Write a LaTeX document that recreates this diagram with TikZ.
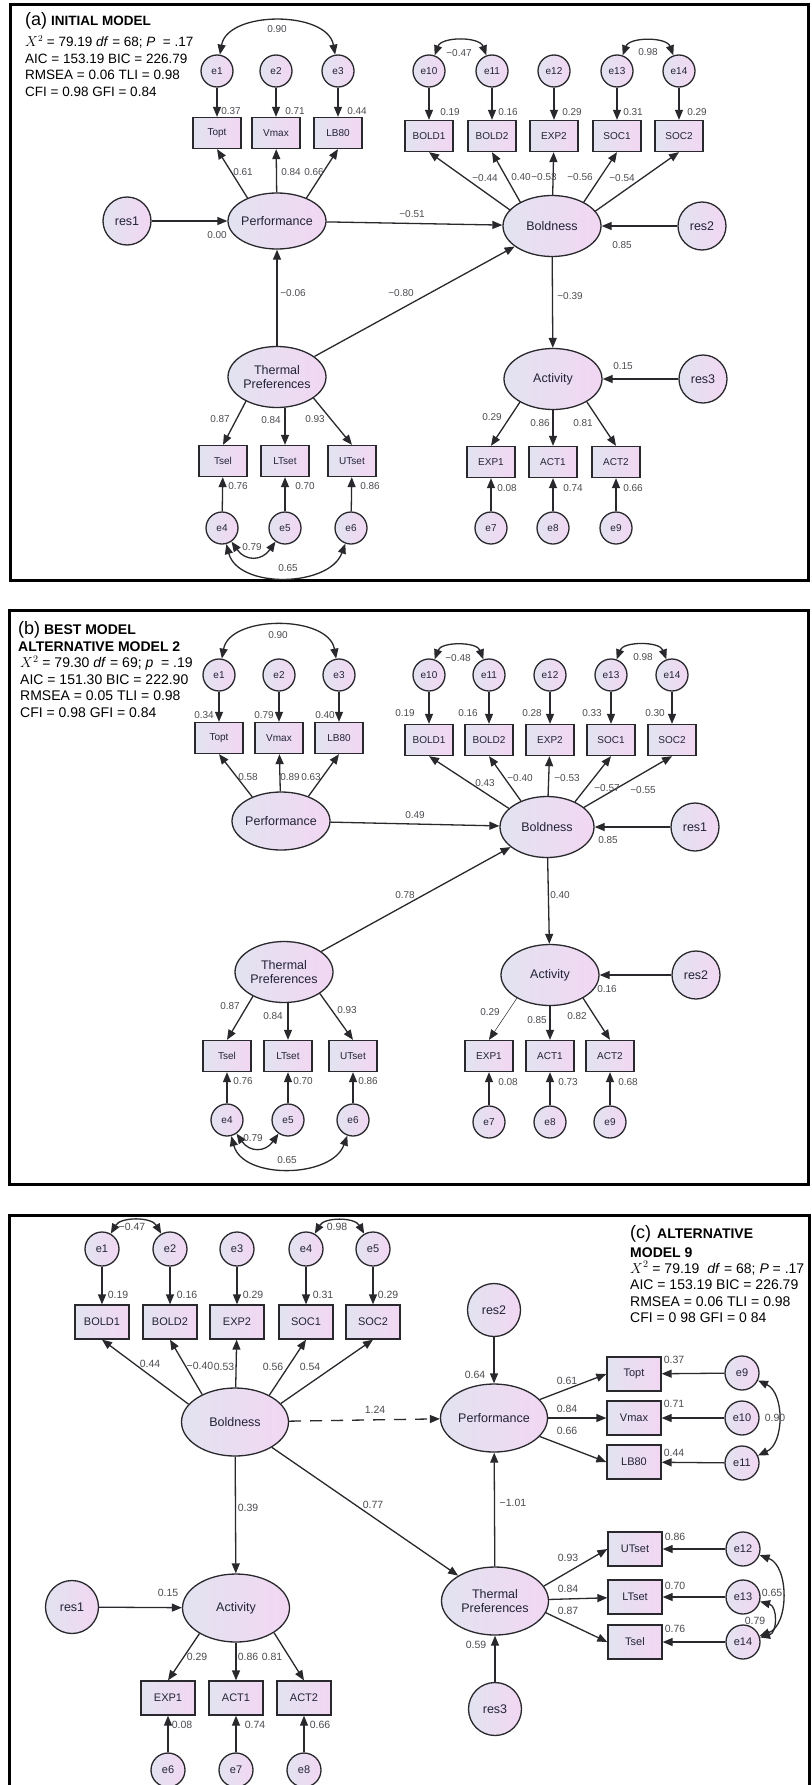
\documentclass[tikz,border=0pt]{standalone}
\usepackage{fontspec}
\setmainfont{Liberation Sans}
\usetikzlibrary{arrows.meta,shapes}

\definecolor{fillL}{RGB}{226,227,240}
\definecolor{fillR}{RGB}{242,215,242}
\definecolor{edgec}{RGB}{40,40,45}
\definecolor{numc}{RGB}{75,75,80}
\definecolor{txtc}{RGB}{35,35,55}

\tikzset{
  lat/.style={ellipse, draw=edgec, line width=1.3pt, left color=fillL, right color=fillR,
    minimum width=98pt, minimum height=61pt, inner sep=-8pt, align=center,
    text=txtc, font=\fontsize{12.5}{14.5}\selectfont},
  obsv/.style={rectangle, draw=edgec, line width=1.3pt, left color=fillL, right color=fillR,
    minimum width=48pt, minimum height=31pt, inner sep=0pt, text=txtc,
    font=\fontsize{10}{12}\selectfont},
  errc/.style={circle, draw=edgec, line width=1.3pt, left color=fillL, right color=fillR,
    minimum size=32pt, inner sep=0pt, text=txtc, font=\fontsize{10}{12}\selectfont},
  resc/.style={circle, draw=edgec, line width=1.3pt, left color=fillL, right color=fillR,
    minimum size=48pt, inner sep=0pt, text=txtc, font=\fontsize{12.5}{14}\selectfont},
  num/.style={inner sep=0pt, text=numc, font=\fontsize{10}{12}\selectfont},
  pth/.style={-{Triangle[length=10pt,width=8pt]}, line width=1.3pt, draw=edgec},
  cov/.style={{Triangle[length=10pt,width=8pt]}-{Triangle[length=10pt,width=8pt]},
    line width=1.3pt, draw=edgec},
  panel/.style={draw=black, line width=3pt},
  stat/.style={anchor=base west, inner sep=0pt, font=\fontsize{14}{16}\selectfont},
}

\begin{document}
\begin{tikzpicture}[x=1pt,y=-1pt]
\useasboundingbox (0,0) rectangle (811,1785);

% ================= (a) initial model =================
\draw[panel] (10,5) rectangle (808,580);
\node[stat] (aT1) at (25,26) {{\fontsize{18}{18}\selectfont (a)} {\fontsize{13.5}{16}\selectfont\bfseries INITIAL MODEL}};
\node[stat, font=\fontsize{13.5}{16}\selectfont] (aT2) at (25,47) {$X^2$ = 79.19 \textit{df} = 68; \textit{P} \ = .17};
\node[stat, font=\fontsize{13.5}{16}\selectfont] (aT3) at (25,63.5) {AIC = 153.19 BIC = 226.79};
\node[stat, font=\fontsize{13.5}{16}\selectfont] (aT4) at (25,80) {RMSEA = 0.06 TLI = 0.98};
\node[stat, font=\fontsize{13.5}{16}\selectfont] (aT5) at (25,96.5) {CFI = 0.98 GFI = 0.84};

% performance block
\node[errc] (ae1) at (217,71) {e1};
\node[errc] (ae2) at (276,71) {e2};
\node[errc] (ae3) at (338,71) {e3};
\node[obsv] (aTopt) at (217,133) {Topt};
\node[obsv] (aVmax) at (276,133) {Vmax};
\node[obsv] (aLB80) at (338,133) {LB80};
\node[lat, minimum height=56pt] (aPerf) at (277,221) {Performance};
\node[resc] (ares1) at (127,221) {res1};

% boldness block
\node[errc] (ae10) at (429,71) {e10};
\node[errc] (ae11) at (492,71) {e11};
\node[errc] (ae12) at (554,71) {e12};
\node[errc] (ae13) at (617,71) {e13};
\node[errc] (ae14) at (679,71) {e14};
\node[obsv] (aBOLD1) at (429,136) {BOLD1};
\node[obsv] (aBOLD2) at (492,136) {BOLD2};
\node[obsv] (aEXP2) at (554,136) {EXP2};
\node[obsv] (aSOC1) at (617,136) {SOC1};
\node[obsv] (aSOC2) at (679,136) {SOC2};
\node[lat] (aBold) at (552,226) {Boldness};
\node[resc] (ares2) at (702,226) {res2};

% activity block
\node[lat] (aAct) at (553,379) {Activity};
\node[resc] (ares3) at (703,379) {res3};
\node[obsv] (aEXP1) at (491,462) {EXP1};
\node[obsv] (aACT1) at (553,462) {ACT1};
\node[obsv] (aACT2) at (616,462) {ACT2};
\node[errc] (ae7) at (491,528) {e7};
\node[errc] (ae8) at (553,528) {e8};
\node[errc] (ae9) at (616,528) {e9};

% thermal block
\node[lat] (aTherm) at (277,377) {Thermal\\Preferences};
\node[obsv] (aTsel) at (223,461) {Tsel};
\node[obsv] (aLTset) at (285,461) {LTset};
\node[obsv] (aUTset) at (352,461) {UTset};
\node[errc] (ae4) at (222,528) {e4};
\node[errc] (ae5) at (285,528) {e5};
\node[errc] (ae6) at (351,528) {e6};

\draw[pth] (ae1) -- (aTopt);
\draw[pth] (ae2) -- (aVmax);
\draw[pth] (ae3) -- (aLB80);
\draw[pth] (aPerf.142) -- (aTopt.south);
\draw[pth] (aPerf) -- (aVmax);
\draw[pth] (aPerf.38) -- (aLB80.south);
\draw[pth] (ares1) -- (aPerf);
\draw[pth] (aPerf) -- (aBold);
\draw[pth] (aTherm) -- (aPerf);
\draw[pth] (aTherm) -- (aBold);
\draw[cov] (ae1) to[out=80,in=100] (ae3);
\draw[pth] (ae10) -- (aBOLD1);
\draw[pth] (ae11) -- (aBOLD2);
\draw[pth] (ae12) -- (aEXP2);
\draw[pth] (ae13) -- (aSOC1);
\draw[pth] (ae14) -- (aSOC2);
\draw[pth] (aBold.159) -- (aBOLD1.south);
\draw[pth] (aBold.143) -- (aBOLD2.south);
\draw[pth] (aBold) -- (aEXP2);
\draw[pth] (aBold.37) -- (aSOC1.south);
\draw[pth] (aBold.19) -- (aSOC2.south);
\draw[cov] (ae10) to[out=70,in=110] (ae11);
\draw[cov] (ae13) to[out=70,in=110] (ae14);
\draw[pth] (ares2) -- (aBold);
\draw[pth] (aBold) -- (aAct);
\draw[pth] (ares3) -- (aAct);
\draw[pth] (aAct.215) -- (aEXP1.north);
\draw[pth] (aAct) -- (aACT1);
\draw[pth] (aAct.326) -- (aACT2.north);
\draw[pth] (ae7) -- (aEXP1);
\draw[pth] (ae8) -- (aACT1);
\draw[pth] (ae9) -- (aACT2);
\draw[pth] (aTherm.218) -- (aTsel.north);
\draw[pth] (aTherm.south -| aLTset.north) -- (aLTset.north);
\draw[pth] (aTherm.330) -- (aUTset.north);
\draw[pth] (ae4) -- (aTsel);
\draw[pth] (ae5) -- (aLTset);
\draw[pth] (ae6) -- (aUTset);
\draw[cov] (ae4) to[out=-55,in=-125,looseness=1.4] (ae5);
\draw[cov] (ae4) to[out=-75,in=-110] (ae6);

\node[num] (aw1) at (277,29) {0.90};
\node[num] (aw2) at (231,111) {0.37};
\node[num] (aw3) at (295,111) {0.71};
\node[num] (aw4) at (357,111) {0.44};
\node[num] (aw5) at (243,172) {0.61};
\node[num] (aw6) at (291,172) {0.84};
\node[num] (aw7) at (314,172) {0.66};
\node[num] (aw8) at (217,235) {0.00};
\node[num] (aw9) at (412,214) {−0.51};
\node[num] (aw10) at (293,293) {−0.06};
\node[num] (aw11) at (401,293) {−0.80};
\node[num] (aw12) at (459,53) {−0.47};
\node[num] (aw13) at (648,52) {0.98};
\node[num] (aw14) at (450,112) {0.19};
\node[num] (aw15) at (508,112) {0.16};
\node[num] (aw16) at (572,112) {0.29};
\node[num] (aw17) at (633,112) {0.31};
\node[num] (aw18) at (697,112) {0.29};
\node[num] (aw19) at (485,178) {−0.44};
\node[num] (aw20) at (521,177) {0.40};
\node[num] (aw21) at (544,177) {−0.53};
\node[num] (aw22) at (580,177) {−0.56};
\node[num] (aw23) at (622,178) {−0.54};
\node[num] (aw24) at (622,245) {0.85};
\node[num] (aw25) at (570,296) {−0.39};
\node[num] (aw26) at (623,366) {0.15};
\node[num] (aw27) at (492,417) {0.29};
\node[num] (aw28) at (540,423) {0.86};
\node[num] (aw29) at (583,423) {0.81};
\node[num] (aw30) at (507,488) {0.08};
\node[num] (aw31) at (573,488) {0.74};
\node[num] (aw32) at (633,488) {0.66};
\node[num] (aw33) at (220,419) {0.87};
\node[num] (aw34) at (271,420) {0.84};
\node[num] (aw35) at (315,419) {0.93};
\node[num] (aw36) at (238,486) {0.76};
\node[num] (aw37) at (305,486) {0.70};
\node[num] (aw38) at (370,486) {0.86};
\node[num] (aw39) at (252,547) {0.79};
\node[num] (aw40) at (288,568) {0.65};

% ================= (b) best model =================
\draw[panel] (9,610) rectangle (808,1184);
\node[stat] (bT1) at (18,634) {{\fontsize{18}{18}\selectfont (b)} \bfseries BEST MODEL};
\node[stat] (bT2) at (18,651) {\bfseries ALTERNATIVE MODEL 2};
\node[stat] (bT3) at (20,667.5) {$X^2$ = 79.30 \textit{df} = 69; \textit{p} \ = .19};
\node[stat] (bT4) at (20,684) {AIC = 151.30 BIC = 222.90};
\node[stat] (bT5) at (20,700.5) {RMSEA = 0.05 TLI = 0.98};
\node[stat] (bT6) at (20,717) {CFI = 0.98 GFI = 0.84};

\node[errc] (be1) at (219,675) {e1};
\node[errc] (be2) at (279,675) {e2};
\node[errc] (be3) at (339,675) {e3};
\node[obsv] (bTopt) at (219,738) {Topt};
\node[obsv] (bVmax) at (279,738) {Vmax};
\node[obsv] (bLB80) at (339,738) {LB80};
\node[lat, minimum height=58pt] (bPerf) at (281,821) {Performance};

\node[errc] (be10) at (429,675) {e10};
\node[errc] (be11) at (489,675) {e11};
\node[errc] (be12) at (550,675) {e12};
\node[errc] (be13) at (611,675) {e13};
\node[errc] (be14) at (672,675) {e14};
\node[obsv] (bBOLD1) at (429,740) {BOLD1};
\node[obsv] (bBOLD2) at (489,740) {BOLD2};
\node[obsv] (bEXP2) at (550,740) {EXP2};
\node[obsv] (bSOC1) at (611,740) {SOC1};
\node[obsv] (bSOC2) at (672,740) {SOC2};
\node[lat, minimum width=94pt] (bBold) at (547,827) {Boldness};
\node[resc] (bres1) at (695,827) {res1};

\node[lat] (bAct) at (550,975) {Activity};
\node[resc] (bres2) at (696,975) {res2};
\node[obsv] (bEXP1) at (489,1056) {EXP1};
\node[obsv] (bACT1) at (550,1056) {ACT1};
\node[obsv] (bACT2) at (610,1056) {ACT2};
\node[errc] (be7) at (489,1122) {e7};
\node[errc] (be8) at (550,1122) {e8};
\node[errc] (be9) at (610,1122) {e9};

\node[lat] (bTherm) at (284,972) {Thermal\\Preferences};
\node[obsv] (bTsel) at (227,1056) {Tsel};
\node[obsv] (bLTset) at (288,1056) {LTset};
\node[obsv] (bUTset) at (353,1056) {UTset};
\node[errc] (be4) at (227,1120) {e4};
\node[errc] (be5) at (288,1120) {e5};
\node[errc] (be6) at (353,1120) {e6};

\draw[pth] (be1) -- (bTopt);
\draw[pth] (be2) -- (bVmax);
\draw[pth] (be3) -- (bLB80);
\draw[pth] (bPerf.140) -- (bTopt.south);
\draw[pth] (bPerf) -- (bVmax);
\draw[pth] (bPerf.42) -- (bLB80.south);
\draw[cov] (be1) to[out=80,in=100] (be3);
\draw[pth] (bPerf) -- (bBold);
\draw[pth] (bTherm) -- (bBold);
\draw[pth] (be10) -- (bBOLD1);
\draw[pth] (be11) -- (bBOLD2);
\draw[pth] (be12) -- (bEXP2);
\draw[pth] (be13) -- (bSOC1);
\draw[pth] (be14) -- (bSOC2);
\draw[pth] (bBold.154) -- (bBOLD1.south);
\draw[pth] (bBold.135) -- (bBOLD2.south);
\draw[pth] (bBold) -- (bEXP2);
\draw[pth] (bBold.42) -- (bSOC1.south);
\draw[pth] (bBold.28) -- (bSOC2.south);
\draw[cov] (be10) to[out=70,in=110] (be11);
\draw[cov] (be13) to[out=70,in=110] (be14);
\draw[pth] (bres1) -- (bBold);
\draw[pth] (bBold) -- (bAct);
\draw[pth] (bres2) -- (bAct);
\draw[pth, line width=0.5pt] (bAct.215) -- (bEXP1.north);
\draw[pth] (bAct) -- (bACT1);
\draw[pth] (bAct.325) -- (bACT2.north);
\draw[pth] (be7) -- (bEXP1);
\draw[pth] (be8) -- (bACT1);
\draw[pth] (be9) -- (bACT2);
\draw[pth] (bTherm.218) -- (bTsel.north);
\draw[pth] (bTherm.south -| bLTset.north) -- (bLTset.north);
\draw[pth] (bTherm.329) -- (bUTset.north);
\draw[pth] (be4) -- (bTsel);
\draw[pth] (be5) -- (bLTset);
\draw[pth] (be6) -- (bUTset);
\draw[cov] (be4) to[out=-55,in=-125,looseness=1.4] (be5);
\draw[cov] (be4) to[out=-75,in=-110] (be6);

\node[num] (bw1) at (278,635) {0.90};
\node[num] (bw2) at (204,715) {0.34};
\node[num] (bw3) at (264,715) {0.79};
\node[num] (bw4) at (325,715) {0.40};
\node[num] (bw5) at (248,777) {0.58};
\node[num] (bw6) at (290,777) {0.89};
\node[num] (bw7) at (311,777) {0.63};
\node[num] (bw8) at (415,815) {0.49};
\node[num] (bw9) at (458,658) {−0.48};
\node[num] (bw10) at (643,657) {0.98};
\node[num] (bw11) at (405,713) {0.19};
\node[num] (bw12) at (468,713) {0.16};
\node[num] (bw13) at (532,713) {0.28};
\node[num] (bw14) at (592,713) {0.33};
\node[num] (bw15) at (655,713) {0.30};
\node[num] (bw16) at (485,783) {0.43};
\node[num] (bw17) at (520,778) {−0.40};
\node[num] (bw18) at (567,778) {−0.53};
\node[num] (bw19) at (607,788) {−0.57};
\node[num] (bw20) at (643,790) {−0.55};
\node[num] (bw21) at (608,840) {0.85};
\node[num] (bw22) at (405,895) {0.78};
\node[num] (bw23) at (560,895) {0.40};
\node[num] (bw24) at (607,989) {0.16};
\node[num] (bw25) at (490,1012) {0.29};
\node[num] (bw26) at (537,1020) {0.85};
\node[num] (bw27) at (577,1016) {0.82};
\node[num] (bw28) at (508,1082) {0.08};
\node[num] (bw29) at (568,1082) {0.73};
\node[num] (bw30) at (628,1082) {0.68};
\node[num] (bw31) at (230,1006) {0.87};
\node[num] (bw32) at (273,1016) {0.84};
\node[num] (bw33) at (347,1010) {0.93};
\node[num] (bw34) at (243,1081) {0.76};
\node[num] (bw35) at (303,1081) {0.70};
\node[num] (bw36) at (368,1081) {0.86};
\node[num] (bw37) at (253,1138) {0.79};
\node[num] (bw38) at (287,1160) {0.65};

% ================= (c) alternative model 9 =================
\draw[panel] (9,1790) |- (809,1215) -- (809,1790);
\node[stat] (cT1) at (630,1238) {{\fontsize{18}{18}\selectfont (c)}\hspace{6pt}\bfseries ALTERNATIVE};
\node[stat] (cT2) at (630,1257) {\bfseries MODEL 9};
\node[stat] (cT3) at (630,1273) {$X^2$ = 79.19 \ \textit{df} = 68; \textit{P} = .17};
\node[stat] (cT4) at (630,1289.5) {AIC = 153.19 BIC = 226.79};
\node[stat] (cT5) at (630,1306) {RMSEA = 0.06 TLI = 0.98};
\node[stat] (cT6) at (630,1322.5) {CFI = 0 98 GFI = 0 84};

\begin{scope}[lat/.append style={minimum width=107pt, minimum height=68pt},
  obsv/.append style={minimum width=54pt, minimum height=34pt, font=\fontsize{11}{13}\selectfont},
  errc/.append style={minimum size=34pt, font=\fontsize{11}{13}\selectfont},
  resc/.append style={minimum size=53pt},
  num/.append style={font=\fontsize{10.5}{12}\selectfont}]

\node[errc] (ce1) at (102,1249) {e1};
\node[errc] (ce2) at (170,1249) {e2};
\node[errc] (ce3) at (237,1249) {e3};
\node[errc] (ce4) at (306,1249) {e4};
\node[errc] (ce5) at (373,1249) {e5};
\node[obsv] (cBOLD1) at (102,1322) {BOLD1};
\node[obsv] (cBOLD2) at (170,1322) {BOLD2};
\node[obsv] (cEXP2) at (237,1322) {EXP2};
\node[obsv] (cSOC1) at (306,1322) {SOC1};
\node[obsv] (cSOC2) at (373,1322) {SOC2};
\node[lat] (cBold) at (235,1422) {Boldness};

\node[resc] (cres2) at (494,1310) {res2};
\node[lat] (cPerf) at (494,1418) {Performance};
\node[obsv] (cTopt) at (634,1374) {Topt};
\node[obsv] (cVmax) at (634,1418) {Vmax};
\node[obsv] (cLB80) at (634,1462) {LB80};
\node[errc] (ce9) at (742,1373) {e9};
\node[errc] (ce10) at (742,1418) {e10};
\node[errc] (ce11) at (742,1463) {e11};

\node[lat] (cTherm) at (495,1601) {Thermal\\Preferences};
\node[resc] (cres3) at (495,1709) {res3};
\node[obsv] (cUTset) at (635,1549) {UTset};
\node[obsv] (cLTset) at (635,1597) {LTset};
\node[obsv] (cTsel) at (635,1642) {Tsel};
\node[errc] (ce12) at (743,1549) {e12};
\node[errc] (ce13) at (743,1597) {e13};
\node[errc] (ce14) at (743,1642) {e14};

\node[lat] (cAct) at (236,1608) {Activity};
\node[resc] (cres1) at (72,1607) {res1};
\node[obsv] (cEXP1) at (168,1698) {EXP1};
\node[obsv] (cACT1) at (236,1698) {ACT1};
\node[obsv] (cACT2) at (304,1698) {ACT2};
\node[errc] (ce6) at (168,1770) {e6};
\node[errc] (ce7) at (236,1770) {e7};
\node[errc] (ce8) at (304,1770) {e8};

\draw[pth] (ce1) -- (cBOLD1);
\draw[pth] (ce2) -- (cBOLD2);
\draw[pth] (ce3) -- (cEXP2);
\draw[pth] (ce4) -- (cSOC1);
\draw[pth] (ce5) -- (cSOC2);
\draw[cov] (ce1) to[out=60,in=120] (ce2);
\draw[cov] (ce4) to[out=60,in=120] (ce5);
\draw[pth] (cBold.159) -- (cBOLD1.south);
\draw[pth] (cBold.140) -- (cBOLD2.south);
\draw[pth] (cBold) -- (cEXP2);
\draw[pth] (cBold.38) -- (cSOC1.south);
\draw[pth] (cBold.22) -- (cSOC2.south);
\draw[pth, dash pattern=on 12pt off 9pt] (cBold) -- (cPerf);
\draw[pth] (cBold) -- (cTherm);
\draw[pth] (cBold) -- (cAct);
\draw[pth] (cres2) -- (cPerf);
\draw[pth] (cTherm) -- (cPerf);
\draw[pth] (cres3) -- (cTherm);
\draw[pth] (cres1) -- (cAct);
\draw[pth] (cPerf.22) -- (cTopt.west);
\draw[pth] (cPerf) -- (cVmax);
\draw[pth] (cPerf.-22) -- (cLB80.west);
\draw[pth] (ce9) -- (cTopt);
\draw[pth] (ce10) -- (cVmax);
\draw[pth] (ce11) -- (cLB80);
\draw[cov] (ce9) to[out=-25,in=25] (ce11);
\draw[pth] (cTherm.17) -- (cUTset.west);
\draw[pth] (cTherm) -- (cLTset);
\draw[pth] (cTherm.-13) -- (cTsel.west);
\draw[pth] (ce12) -- (cUTset);
\draw[pth] (ce13) -- (cLTset);
\draw[pth] (ce14) -- (cTsel);
\draw[cov] (ce12) to[out=-20,in=20] (ce14);
\draw[cov] (ce13) to[out=-15,in=15,looseness=1.3] (ce14);
\draw[pth] (cAct.215) -- (cEXP1.north);
\draw[pth] (cAct) -- (cACT1);
\draw[pth] (cAct.327) -- (cACT2.north);
\draw[pth] (ce6) -- (cEXP1);
\draw[pth] (ce7) -- (cACT1);
\draw[pth] (ce8) -- (cACT2);

\node[num] (cw1) at (132,1227) {−0.47};
\node[num] (cw2) at (337,1227) {0.98};
\node[num] (cw3) at (118,1295) {0.19};
\node[num] (cw4) at (187,1295) {0.16};
\node[num] (cw5) at (253,1295) {0.29};
\node[num] (cw6) at (323,1295) {0.31};
\node[num] (cw7) at (388,1295) {0.29};
\node[num] (cw8) at (150,1364) {0.44};
\node[num] (cw9) at (200,1366) {−0.40};
\node[num] (cw10) at (224,1367) {0.53};
\node[num] (cw11) at (273,1367) {0.56};
\node[num] (cw12) at (310,1367) {0.54};
\node[num] (cw13) at (375,1410) {1.24};
\node[num] (cw14) at (475,1375) {0.64};
\node[num] (cw15) at (567,1381) {0.61};
\node[num] (cw16) at (567,1409) {0.84};
\node[num] (cw17) at (567,1431) {0.66};
\node[num] (cw18) at (674,1360) {0.37};
\node[num] (cw19) at (674,1404) {0.71};
\node[num] (cw20) at (674,1453) {0.44};
\node[num] (cw21) at (775,1418) {0.90};
\node[num] (cw22) at (248,1508) {0.39};
\node[num] (cw23) at (373,1505) {0.77};
\node[num] (cw24) at (513,1503) {−1.01};
\node[num] (cw25) at (568,1558) {0.93};
\node[num] (cw26) at (568,1589) {0.84};
\node[num] (cw27) at (568,1611) {0.87};
\node[num] (cw28) at (675,1537) {0.86};
\node[num] (cw29) at (675,1586) {0.70};
\node[num] (cw30) at (675,1629) {0.76};
\node[num] (cw31) at (772,1593) {0.65};
\node[num] (cw32) at (755,1621) {0.79};
\node[num] (cw33) at (476,1645) {0.59};
\node[num] (cw34) at (168,1593) {0.15};
\node[num] (cw35) at (197,1657) {0.29};
\node[num] (cw36) at (248,1657) {0.86};
\node[num] (cw37) at (272,1657) {0.81};
\node[num] (cw38) at (182,1725) {0.08};
\node[num] (cw39) at (255,1725) {0.74};
\node[num] (cw40) at (320,1725) {0.66};
\end{scope}

\end{tikzpicture}
\end{document}
